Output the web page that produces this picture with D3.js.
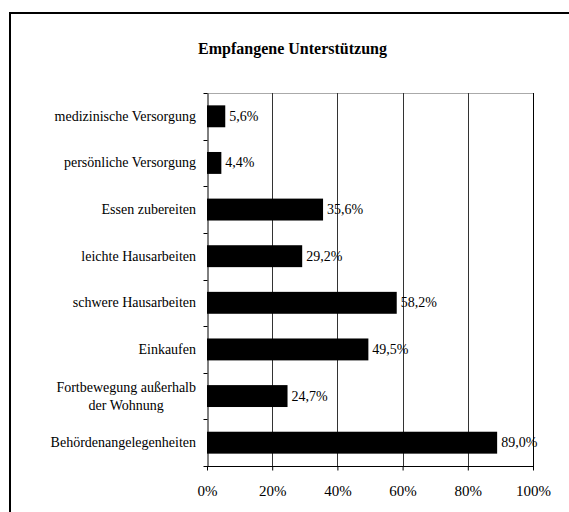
<!DOCTYPE html>
<html><head><meta charset="utf-8">
<script src="https://cdn.jsdelivr.net/npm/d3@7"></script>
<style>html,body{margin:0;padding:0;background:#fff;}svg{display:block;}</style>
</head><body>
<script>
const title = "Empfangene Unterstützung";
const categories = [
  ["medizinische Versorgung"],
  ["persönliche Versorgung"],
  ["Essen zubereiten"],
  ["leichte Hausarbeiten"],
  ["schwere Hausarbeiten"],
  ["Einkaufen"],
  ["Fortbewegung außerhalb", "der Wohnung"],
  ["Behördenangelegenheiten"]
];
const values = [5.6, 4.4, 35.6, 29.2, 58.2, 49.5, 24.7, 89.0];
const xTicks = [0, 20, 40, 60, 80, 100];

(function () {
const W = 569, H = 512;
const pL = 207, pR = 533, pT = 93, pB = 466;
const font = "'Liberation Serif', 'Times New Roman', serif";

const svg = d3.select("body").append("svg").attr("width", W).attr("height", H);
svg.append("rect").attr("width", W).attr("height", H).attr("fill", "#fff");
// outer frame
svg.append("rect").attr("x", 10).attr("y", 13).attr("width", W + 20).attr("height", H + 20)
  .attr("fill", "none").attr("stroke", "#000").attr("stroke-width", 2);

svg.append("text").attr("x", 292.5).attr("y", 54).attr("text-anchor", "middle")
  .attr("font-family", font).attr("font-weight", "bold").attr("font-size", 16).text(title);

const x = d3.scaleLinear().domain([0, 100]).range([pL, pR]);
const y = d3.scaleBand().domain(d3.range(categories.length)).range([pT, pB]).paddingInner(0.53).paddingOuter(0.265);
const yb = d3.scaleBand().domain(d3.range(categories.length)).range([pT, pB]);

// top frame line
svg.append("line").attr("x1", pL).attr("x2", pR).attr("y1", pT + 0.5).attr("y2", pT + 0.5)
  .attr("stroke", "#aaa").attr("stroke-width", 1);
// gridlines
svg.append("g").selectAll("line").data(xTicks.slice(1)).join("line")
  .attr("x1", d => Math.round(x(d)) + 0.5).attr("x2", d => Math.round(x(d)) + 0.5)
  .attr("y1", pT).attr("y2", pB)
  .attr("stroke", d => d === 100 ? "#000" : "#333").attr("stroke-width", 1);

// bars
svg.append("g").selectAll("rect").data(values).join("rect")
  .attr("x", pL).attr("y", (d, i) => y(i))
  .attr("width", d => x(d) - pL).attr("height", y.bandwidth()).attr("fill", "#000");

// value labels
svg.append("g").selectAll("text").data(values).join("text")
  .attr("x", d => x(d) + 4).attr("y", (d, i) => y(i) + y.bandwidth() / 2 + 4.5)
  .attr("font-family", font).attr("font-size", 14)
  .text(d => d.toFixed(1).replace(".", ",") + "%");

// y axis
const yAxis = d3.axisLeft(yb).tickSize(0).tickFormat("");
const gy = svg.append("g").attr("transform", `translate(${pL + 0.5},0)`).call(yAxis);
gy.select(".domain").attr("stroke", "#000");
gy.selectAll("line.bt").data(d3.range(categories.length + 1)).join("line")
  .attr("x1", -4).attr("x2", 0)
  .attr("y1", i => Math.round(pT + i * yb.step()) + 0.5)
  .attr("y2", i => Math.round(pT + i * yb.step()) + 0.5)
  .attr("stroke", "#000");

// category labels (block right-aligned, lines centered)
const labG = svg.append("g").attr("font-family", font).attr("font-size", 14);
categories.forEach((lines, i) => {
  const g = labG.append("g");
  const texts = lines.map(l => g.append("text").text(l));
  const widths = texts.map(t => t.node().getComputedTextLength());
  const mw = d3.max(widths);
  const cx = 196 - mw / 2;
  const cy = yb(i) + yb.bandwidth() / 2;
  const lh = 18;
  texts.forEach((t, j) => {
    t.attr("x", cx).attr("text-anchor", "middle")
     .attr("y", cy + 4.5 + (j - (lines.length - 1) / 2) * lh);
  });
});

// x axis
const xAxis = d3.axisBottom(x).tickValues(xTicks).tickSize(4).tickPadding(15)
  .tickFormat(d => d + "%");
const gx = svg.append("g").attr("transform", `translate(0,${pB + 0.5})`).call(xAxis);
gx.select(".domain").attr("d", `M${pL},0H${pR + 1}`).attr("stroke", "#000");
gx.selectAll(".tick line").attr("stroke", "#000");
gx.selectAll(".tick text").attr("font-family", font).attr("font-size", 15).attr("fill", "#000");
})();
</script>
</body></html>
